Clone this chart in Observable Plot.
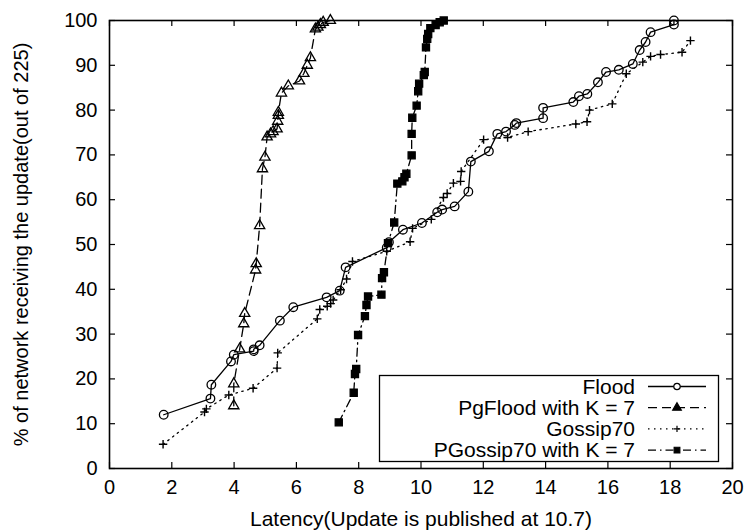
<!DOCTYPE html>
<html><head><meta charset="utf-8">
<script src="https://cdn.jsdelivr.net/npm/d3@7"></script>
<script src="https://cdn.jsdelivr.net/npm/@observablehq/plot@0.6"></script>
<style>
body{margin:0;background:#fff;}
#wrap{position:relative;width:748px;height:532px;background:#fff;}
#wrap svg{font-family:"Liberation Sans",Arial,Helvetica,sans-serif;}
#legend{position:absolute;left:0;top:0;}
</style></head><body><div id="wrap"></div>
<script>
// ---- data ----
const seriesNames = ["Flood", "PgFlood with K = 7", "Gossip70", "PGossip70 with K = 7"];

const floodLatency = [1.74,3.24,3.27,3.9,3.99,4.63,4.63,4.82,5.47,5.9,6.97,7.39,7.58,8.9,8.97,9.42,10.03,10.52,10.68,11.08,11.52,11.6,12.18,12.45,12.73,13.01,13.06,13.92,13.92,14.89,15.07,15.34,15.68,15.94,16.35,16.8,17.02,17.21,17.37,18.12,18.12];
const floodPct     = [12.0,15.6,18.7,23.9,25.4,26.2,26.6,27.5,33.0,36.0,38.2,39.7,44.9,49.3,50.5,53.3,54.8,57.2,57.8,58.5,61.8,68.5,70.8,74.7,75.2,76.7,77.1,78.2,80.5,81.8,83.1,83.6,86.2,88.5,89.0,90.3,93.4,95.2,97.4,99.1,100];

const pgFloodLatency = [3.99,3.99,4.18,4.31,4.34,4.69,4.71,4.82,4.91,4.99,5.06,5.17,5.25,5.38,5.4,5.42,5.42,5.52,5.74,6.1,6.24,6.35,6.45,6.61,6.69,6.77,6.86,7.09];
const pgFloodPct     = [14.0,18.9,26.7,32.3,34.6,44.3,45.7,54.2,66.9,69.5,74.0,74.7,75.2,75.8,77.5,78.8,79.5,83.8,85.4,86.5,88.2,90.0,91.7,98.1,98.5,99.1,99.6,100];

const gossipLatency = [1.72,3.05,3.11,3.83,4.61,5.38,5.4,6.67,6.75,6.99,7.1,7.18,7.42,7.61,7.8,8.9,9.65,9.73,10.33,10.72,10.84,11.04,11.27,11.29,12.01,12.78,13.44,14.97,15.33,15.41,16.14,16.59,17.12,17.37,17.69,18.38,18.65];
const gossipPct     = [5.4,12.6,13.3,16.4,17.9,22.4,25.8,33.4,35.5,36.2,36.8,37.6,39.9,42.3,46.2,48.5,50.6,53.6,55.6,60.5,61.4,63.7,64.1,66.3,73.4,73.9,75.2,76.9,77.4,80.0,81.4,88.1,90.7,92.0,92.4,92.9,95.5];

const pgGossipLatency = [7.36,7.84,7.88,7.92,7.98,8.2,8.25,8.3,8.73,8.75,8.81,8.94,9.14,9.24,9.4,9.47,9.53,9.7,9.7,9.72,9.86,9.91,9.94,10.09,10.12,10.16,10.2,10.23,10.3,10.47,10.6,10.73];
const pgGossipPct     = [10.3,16.9,21.1,22.2,29.8,34.0,36.5,38.4,38.8,42.5,43.8,50.3,54.9,63.6,64.1,65.0,65.8,69.9,74.7,78.3,81.0,84.2,85.9,87.8,88.5,94.0,95.9,97.0,98.3,99.0,99.6,100];

const xTicks = [0,2,4,6,8,10,12,14,16,18,20];
const yTicks = [0,10,20,30,40,50,60,70,80,90,100];
const xTitle = "Latency(Update is published at 10.7)";
const yTitle = "% of network receiving the update(out of 225)";

// ---- build tables ----
const zip = (xs, ys) => xs.map((x, i) => ({x, y: ys[i]}));
const flood = zip(floodLatency, floodPct);
const pgFlood = zip(pgFloodLatency, pgFloodPct);
const gossip = zip(gossipLatency, gossipPct);
const pgGossip = zip(pgGossipLatency, pgGossipPct);

// custom stroked plus symbol
const plusSymbol = {draw(ctx, size) { const r = Math.sqrt(size / Math.PI); ctx.moveTo(-r, 0); ctx.lineTo(r, 0); ctx.moveTo(0, -r); ctx.lineTo(0, r); }};

const styles = [
  {data: flood,    dash: null,          symbol: "circle",   r: 4.3, fill: "none",  sw: 1.3},
  {data: pgFlood,  dash: "9,5",         symbol: "triangle", r: 3.8, fill: "none",  sw: 1.3},
  {data: gossip,   dash: "1.5,4.5",     symbol: plusSymbol, r: 4.2, fill: "none",  sw: 1.4},
  {data: pgGossip, dash: "8,4,1.5,4",   symbol: "square",   r: 4.0, fill: "black", sw: 1.3}
];

const W = 748, H = 532, mL = 109, mR = 16, mT = 20, mB = 64;
const plotH = H - mT - mB, plotW = W - mL - mR, tk = 6;

const marks = [
  Plot.axisX({ticks: xTicks, tickSize: 0, tickPadding: 11, label: null, fontSize: 20}),
  Plot.axisY({ticks: yTicks, tickSize: 0, tickPadding: 12, label: null, fontSize: 20}),
  Plot.tickX(xTicks, {x: d => d, insetTop: plotH - tk, stroke: "black", strokeWidth: 1.2}),
  Plot.tickX(xTicks, {x: d => d, insetBottom: plotH - tk, stroke: "black", strokeWidth: 1.2}),
  Plot.tickY(yTicks, {y: d => d, insetRight: plotW - tk, stroke: "black", strokeWidth: 1.2}),
  Plot.tickY(yTicks, {y: d => d, insetLeft: plotW - tk, stroke: "black", strokeWidth: 1.2})
];
for (const s of styles) {
  marks.push(Plot.line(s.data, {x: "x", y: "y", stroke: "black", strokeWidth: 1.3, strokeDasharray: s.dash}));
  marks.push(Plot.dot(s.data, {x: "x", y: "y", symbol: s.symbol, r: s.r, stroke: "black", strokeWidth: s.sw, fill: s.fill}));
}
marks.push(Plot.frame({stroke: "black", strokeWidth: 1.6}));
marks.push(Plot.text([xTitle], {frameAnchor: "bottom", dy: 57, fontSize: 21, fill: "black", textAnchor: "middle"}));
marks.push(Plot.text([yTitle], {frameAnchor: "left", dx: -88, rotate: -90, fontSize: 20, fill: "black", textAnchor: "middle"}));

const chart = Plot.plot({
  width: W, height: H, marginLeft: mL, marginRight: mR, marginTop: mT, marginBottom: mB,
  style: {fontFamily: "'Liberation Sans', Arial, sans-serif", fontSize: "20px", color: "black", background: "white", overflow: "visible"},
  x: {domain: [0, 20]},
  y: {domain: [0, 100]},
  marks
});
const wrap = document.getElementById("wrap");
wrap.appendChild(chart);

// ---- legend overlay ----
const lg = d3.select(wrap).append("svg").attr("id", "legend").attr("width", W).attr("height", H);
const box = {x0: 379.5, x1: 718.5, y0: 375.5, y1: 461.5};
lg.append("rect").attr("x", box.x0).attr("y", box.y0).attr("width", box.x1 - box.x0).attr("height", box.y1 - box.y0)
  .attr("fill", "white").attr("stroke", "black").attr("stroke-width", 1.3);
const rowY = i => 386.5 + i * 21.2;
seriesNames.forEach((name, i) => {
  const s = styles[i];
  const g = lg.append("g");
  g.append("text").attr("x", 635).attr("y", rowY(i)).attr("dy", "0.35em").attr("text-anchor", "end")
    .attr("font-size", 21).attr("fill", "black").text(name);
  g.append("line").attr("x1", 648).attr("x2", 706).attr("y1", rowY(i)).attr("y2", rowY(i))
    .attr("stroke", "black").attr("stroke-width", 1.3).attr("stroke-dasharray", s.dash);
  const sym = d3.symbol(s.symbol === "circle" ? d3.symbolCircle : s.symbol === "triangle" ? d3.symbolTriangle : s.symbol === "square" ? d3.symbolSquare : plusSymbol, Math.PI * 3.2 * 3.2);
  g.append("path").attr("transform", `translate(677,${rowY(i)})`).attr("d", sym())
    .attr("fill", s.fill === "black" ? "black" : (s.symbol === "triangle" ? "black" : "white")).attr("stroke", "black").attr("stroke-width", 1.2);
});
</script></body></html>
